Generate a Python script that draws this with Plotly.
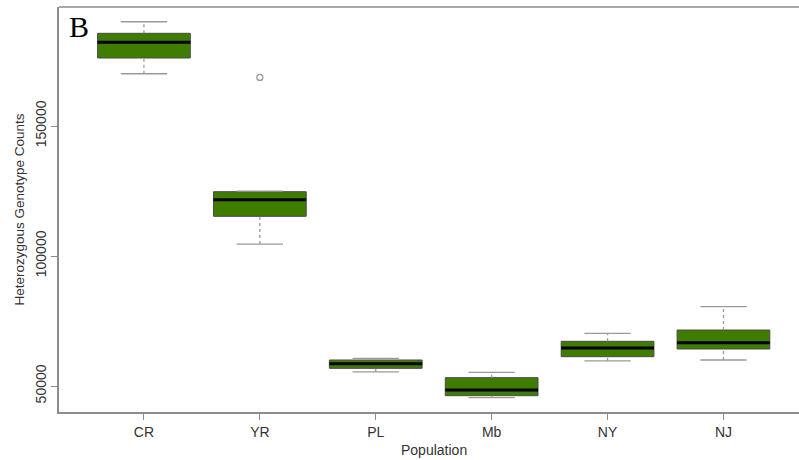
import plotly.graph_objects as go

populations = ["CR", "YR", "PL", "Mb", "NY", "NJ"]
lower_whisker = [170100, 104600, 55400, 45500, 59700, 60000]
q1_values = [176150, 115260, 56800, 46270, 61270, 64230]
medians = [182190, 121660, 58580, 48460, 64615, 66650]
q3_values = [185650, 124730, 60000, 53200, 67190, 71540]
upper_whisker = [190100, 124950, 60650, 55270, 70270, 80500]
outlier_pop = ["YR"]
outlier_values = [168700]

y_ticks = [50000, 100000, 150000]

GREEN = "#3f7d00"
AXIS = "#8c8c8c"
WHISK = "#9a9a9a"

pos = {p: i + 1 for i, p in enumerate(populations)}
xs = [pos[p] for p in populations]
half = 0.4
cap = 0.2

fig = go.Figure()

wx, wy = [], []
for x, lo, q1, q3, hi in zip(xs, lower_whisker, q1_values, q3_values, upper_whisker):
    wx += [x, x, None, x, x, None]
    wy += [lo, q1, None, q3, hi, None]
fig.add_trace(go.Scatter(x=wx, y=wy, mode="lines", hoverinfo="skip",
                         line=dict(color=WHISK, width=1.3, dash="3px,3px"), showlegend=False))
cx, cy = [], []
for x, lo, hi in zip(xs, lower_whisker, upper_whisker):
    cx += [x - cap, x + cap, None, x - cap, x + cap, None]
    cy += [lo, lo, None, hi, hi, None]
fig.add_trace(go.Scatter(x=cx, y=cy, mode="lines", hoverinfo="skip",
                         line=dict(color=WHISK, width=1.3), showlegend=False))

fig.add_trace(go.Box(x=xs, q1=q1_values, median=medians, q3=q3_values,
                     lowerfence=q1_values, upperfence=q3_values,
                     width=0.8, fillcolor=GREEN, line=dict(color="#4a4a4a", width=1),
                     whiskerwidth=0, showlegend=False, hoverinfo="skip"))

mx, my = [], []
for x, m in zip(xs, medians):
    mx += [x - half, x + half, None]
    my += [m, m, None]
fig.add_trace(go.Scatter(x=mx, y=my, mode="lines", hoverinfo="skip",
                         line=dict(color="#000000", width=3), showlegend=False))

fig.add_trace(go.Scatter(x=[pos[p] for p in outlier_pop], y=outlier_values, mode="markers",
                         marker=dict(symbol="circle-open", size=6, color=WHISK,
                                     line=dict(width=1.3, color=WHISK)),
                         showlegend=False, hoverinfo="skip"))

FIG_W = 815
PLOT_W = FIG_W - 59
fig.update_layout(
    template="none",
    width=FIG_W, height=460,
    margin=dict(l=59, r=0, t=7, b=48),
    plot_bgcolor="white", paper_bgcolor="white",
    font=dict(family="Liberation Sans, Arial, sans-serif", size=14, color="#333333"),
    xaxis=dict(range=[0.267, 0.267 + PLOT_W / 115.9], tickmode="array", tickvals=xs, ticktext=populations,
               showgrid=False, zeroline=False, showline=True, linecolor=AXIS, linewidth=1.5,
               mirror=False, ticks="outside", ticklen=6, tickcolor=AXIS, tickwidth=1,
               tickfont=dict(size=14, color="#333333")),
    yaxis=dict(range=[40000, 195770], tickmode="array", tickvals=y_ticks,
               ticktext=[str(v) for v in y_ticks], tickangle=-90,
               showgrid=False, zeroline=False, showline=True, linecolor=AXIS, linewidth=1.5,
               mirror=False, ticks="outside", ticklen=6, tickcolor=AXIS, tickwidth=1,
               tickfont=dict(size=14, color="#333333")),
    shapes=[dict(type="line", xref="paper", yref="paper", x0=0, x1=1, y0=1, y1=1,
                 line=dict(color=AXIS, width=1.5))],
    annotations=[
        dict(text="Heterozygous Genotype Counts", xref="paper", yref="paper",
             x=-40 / PLOT_W, y=0.5, textangle=-90, showarrow=False,
             xanchor="center", yanchor="middle",
             font=dict(size=13.5, color="#333333")),
        dict(text="Population", xref="paper", yref="paper",
             x=(434 - 59) / PLOT_W, y=-(450 - 412) / 405, showarrow=False,
             xanchor="center", yanchor="middle",
             font=dict(size=14, color="#333333")),
        dict(text="B", xref="paper", yref="paper",
             x=(67 - 59) / PLOT_W, y=1 - (26 - 7) / 405, showarrow=False,
             xanchor="left", yanchor="middle",
             font=dict(family="Liberation Serif, Times New Roman, serif", size=30, color="#000000")),
    ],
)

fig.write_html("out.html", config={"displayModeBar": False},
               post_script="document.body.style.margin='0px';document.body.style.overflow='hidden';document.documentElement.style.overflow='hidden';")
